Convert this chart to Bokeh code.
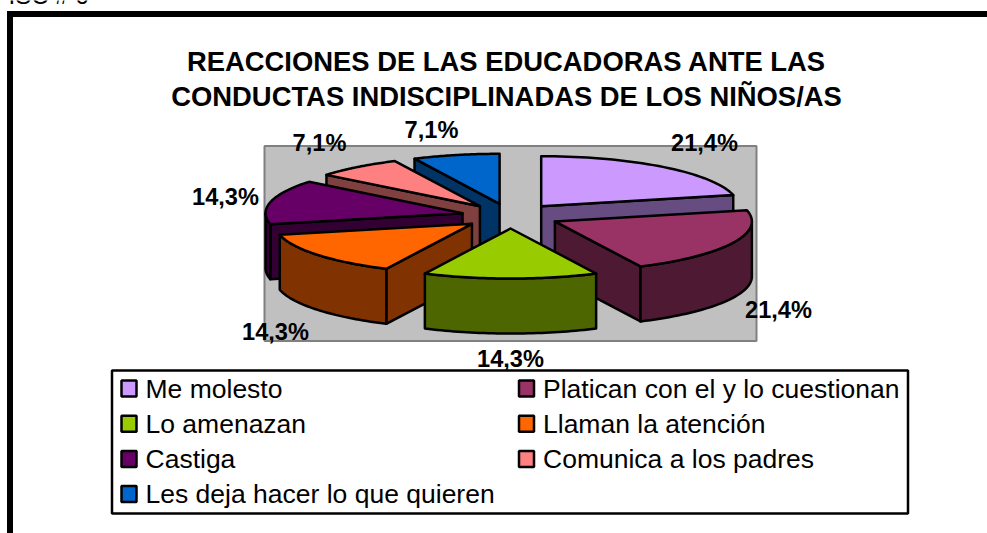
import math
from bokeh.plotting import figure
from bokeh.models import Range1d
from bokeh.core.properties import value
from bokeh.embed import file_html
from bokeh.resources import INLINE

# ---- data ----
categories = ["Me molesto", "Platican con el y lo cuestionan", "Lo amenazan", "Llaman la atención",
              "Castiga", "Comunica a los padres", "Les deja hacer lo que quieren"]
percent = [21.4, 21.4, 14.3, 14.3, 14.3, 7.1, 7.1]
title_lines = ["REACCIONES DE LAS EDUCADORAS ANTE LAS", "CONDUCTAS INDISCIPLINADAS DE LOS NIÑOS/AS"]
top_note = "ISC # 6"

# ---- styles ----
top_colors = ["#CC99FF", "#993366", "#99CC00", "#FF6600", "#660066", "#FF8080", "#0066CC"]
side_colors = ["#664C80", "#4D1933", "#4D6600", "#803300", "#330033", "#804040", "#003366"]
FONT = "Liberation Sans"

# ---- layout (page pixels) ----
W, H = 987, 533
CX, CY = 510.0, 215.5     # pie centre
RX, RY = 197.0, 50.0      # ellipse radii
DEPTH = 55.0
EXPLODE = 0.25
PLOT_BOX = (264, 145.5, 756, 340.5)
LEGEND_BOX = (111.5, 370, 907.5, 513)
draw_order = [0, 6, 5, 4, 1, 3, 2]
label_pos = [(704, 142), (778, 309), (510, 358), (275, 331), (225, 196), (319, 142), (431, 129)]

p = figure(width=W, height=H, output_backend="svg", toolbar_location=None,
           x_range=Range1d(0, W), y_range=Range1d(H, 0), min_border=0,
           background_fill_color="white", border_fill_color="white", outline_line_color=None)
p.axis.visible = False
p.grid.visible = False
p.styles = {"position": "absolute", "left": "0px", "top": "0px"}

# page frame
p.quad(left=[6.5, 6.5], right=[12.5, W], top=[10.5, 10.5], bottom=[H, 16.5], fill_color="black", line_color=None)
p.text([8], [-4.6], text=[top_note], text_font=value(FONT), text_font_size="24px",
       text_baseline="middle", text_color="black")

# title
for line, y in zip(title_lines, [61, 96]):
    p.text([506], [y], text=[line], text_font=value(FONT), text_font_size="27.4px", text_font_style="bold",
           text_align="center", text_baseline="middle", text_color="black")

# plot area
x0, y0, x1, y1 = PLOT_BOX
p.quad(left=[x0], right=[x1], top=[y0], bottom=[y1], fill_color="#C0C0C0", line_color="#808080", line_width=2)

# slices
total = sum(percent)
edges = [0.0]
for v in percent:
    edges.append(edges[-1] + v / total * 360.0)


def pt(ax, ay, deg):
    r = math.radians(deg)
    return ax + RX * math.sin(r), ay - RY * math.cos(r)


def arc(ax, ay, a, b, n=40):
    return [pt(ax, ay, a + (b - a) * i / n) for i in range(n + 1)]


def poly(pts, fill):
    p.patch([q[0] for q in pts], [q[1] for q in pts], fill_color=fill, line_color="black",
            line_width=2.5, line_join="round")


for i in draw_order:
    a, b = edges[i], edges[i + 1]
    mid = (a + b) / 2
    m = math.radians(mid)
    ax = CX + EXPLODE * RX * math.sin(m)
    ay = CY - EXPLODE * RY * math.cos(m)
    side = side_colors[i]
    # radial cut faces that look towards the viewer
    if math.cos(math.radians(a - 90)) < -1e-6:
        e = pt(ax, ay, a)
        poly([(ax, ay), e, (e[0], e[1] + DEPTH), (ax, ay + DEPTH)], side)
    if math.cos(math.radians(b + 90)) < -1e-6:
        e = pt(ax, ay, b)
        poly([(ax, ay), e, (e[0], e[1] + DEPTH), (ax, ay + DEPTH)], side)
    # outer curved wall
    ws, we = max(a, 90.0), min(b, 270.0)
    if we > ws:
        top = arc(ax, ay, ws, we)
        poly(top + [(q[0], q[1] + DEPTH) for q in reversed(top)], side)
    # top face
    poly([(ax, ay)] + arc(ax, ay, a, b), top_colors[i])

# data labels
for v, (lx, ly) in zip(percent, label_pos):
    p.text([lx], [ly], text=[f"{v:.1f}%".replace(".", ",")], text_font=value(FONT), text_font_size="23.6px",
           text_font_style="bold", text_align="center", text_baseline="middle", text_color="black")

# legend
lx0, ly0, lx1, ly1 = LEGEND_BOX
p.quad(left=[lx0], right=[lx1], top=[ly0], bottom=[ly1], fill_color="white", line_color="black", line_width=2.5)
col_x = [121, 518.5]
for i, name in enumerate(categories):
    c, r = i % 2, i // 2
    sx = col_x[c]
    sy = 388 + r * 35.2
    p.quad(left=[sx], right=[sx + 15], top=[sy - 8], bottom=[sy + 8], fill_color=top_colors[i],
           line_color="black", line_width=2.5)
    p.text([sx + 24], [sy], text=[name], text_font=value(FONT), text_font_size="26.5px",
           text_baseline="middle", text_color="black")

open("out.html", "w").write(file_html(p, INLINE))
